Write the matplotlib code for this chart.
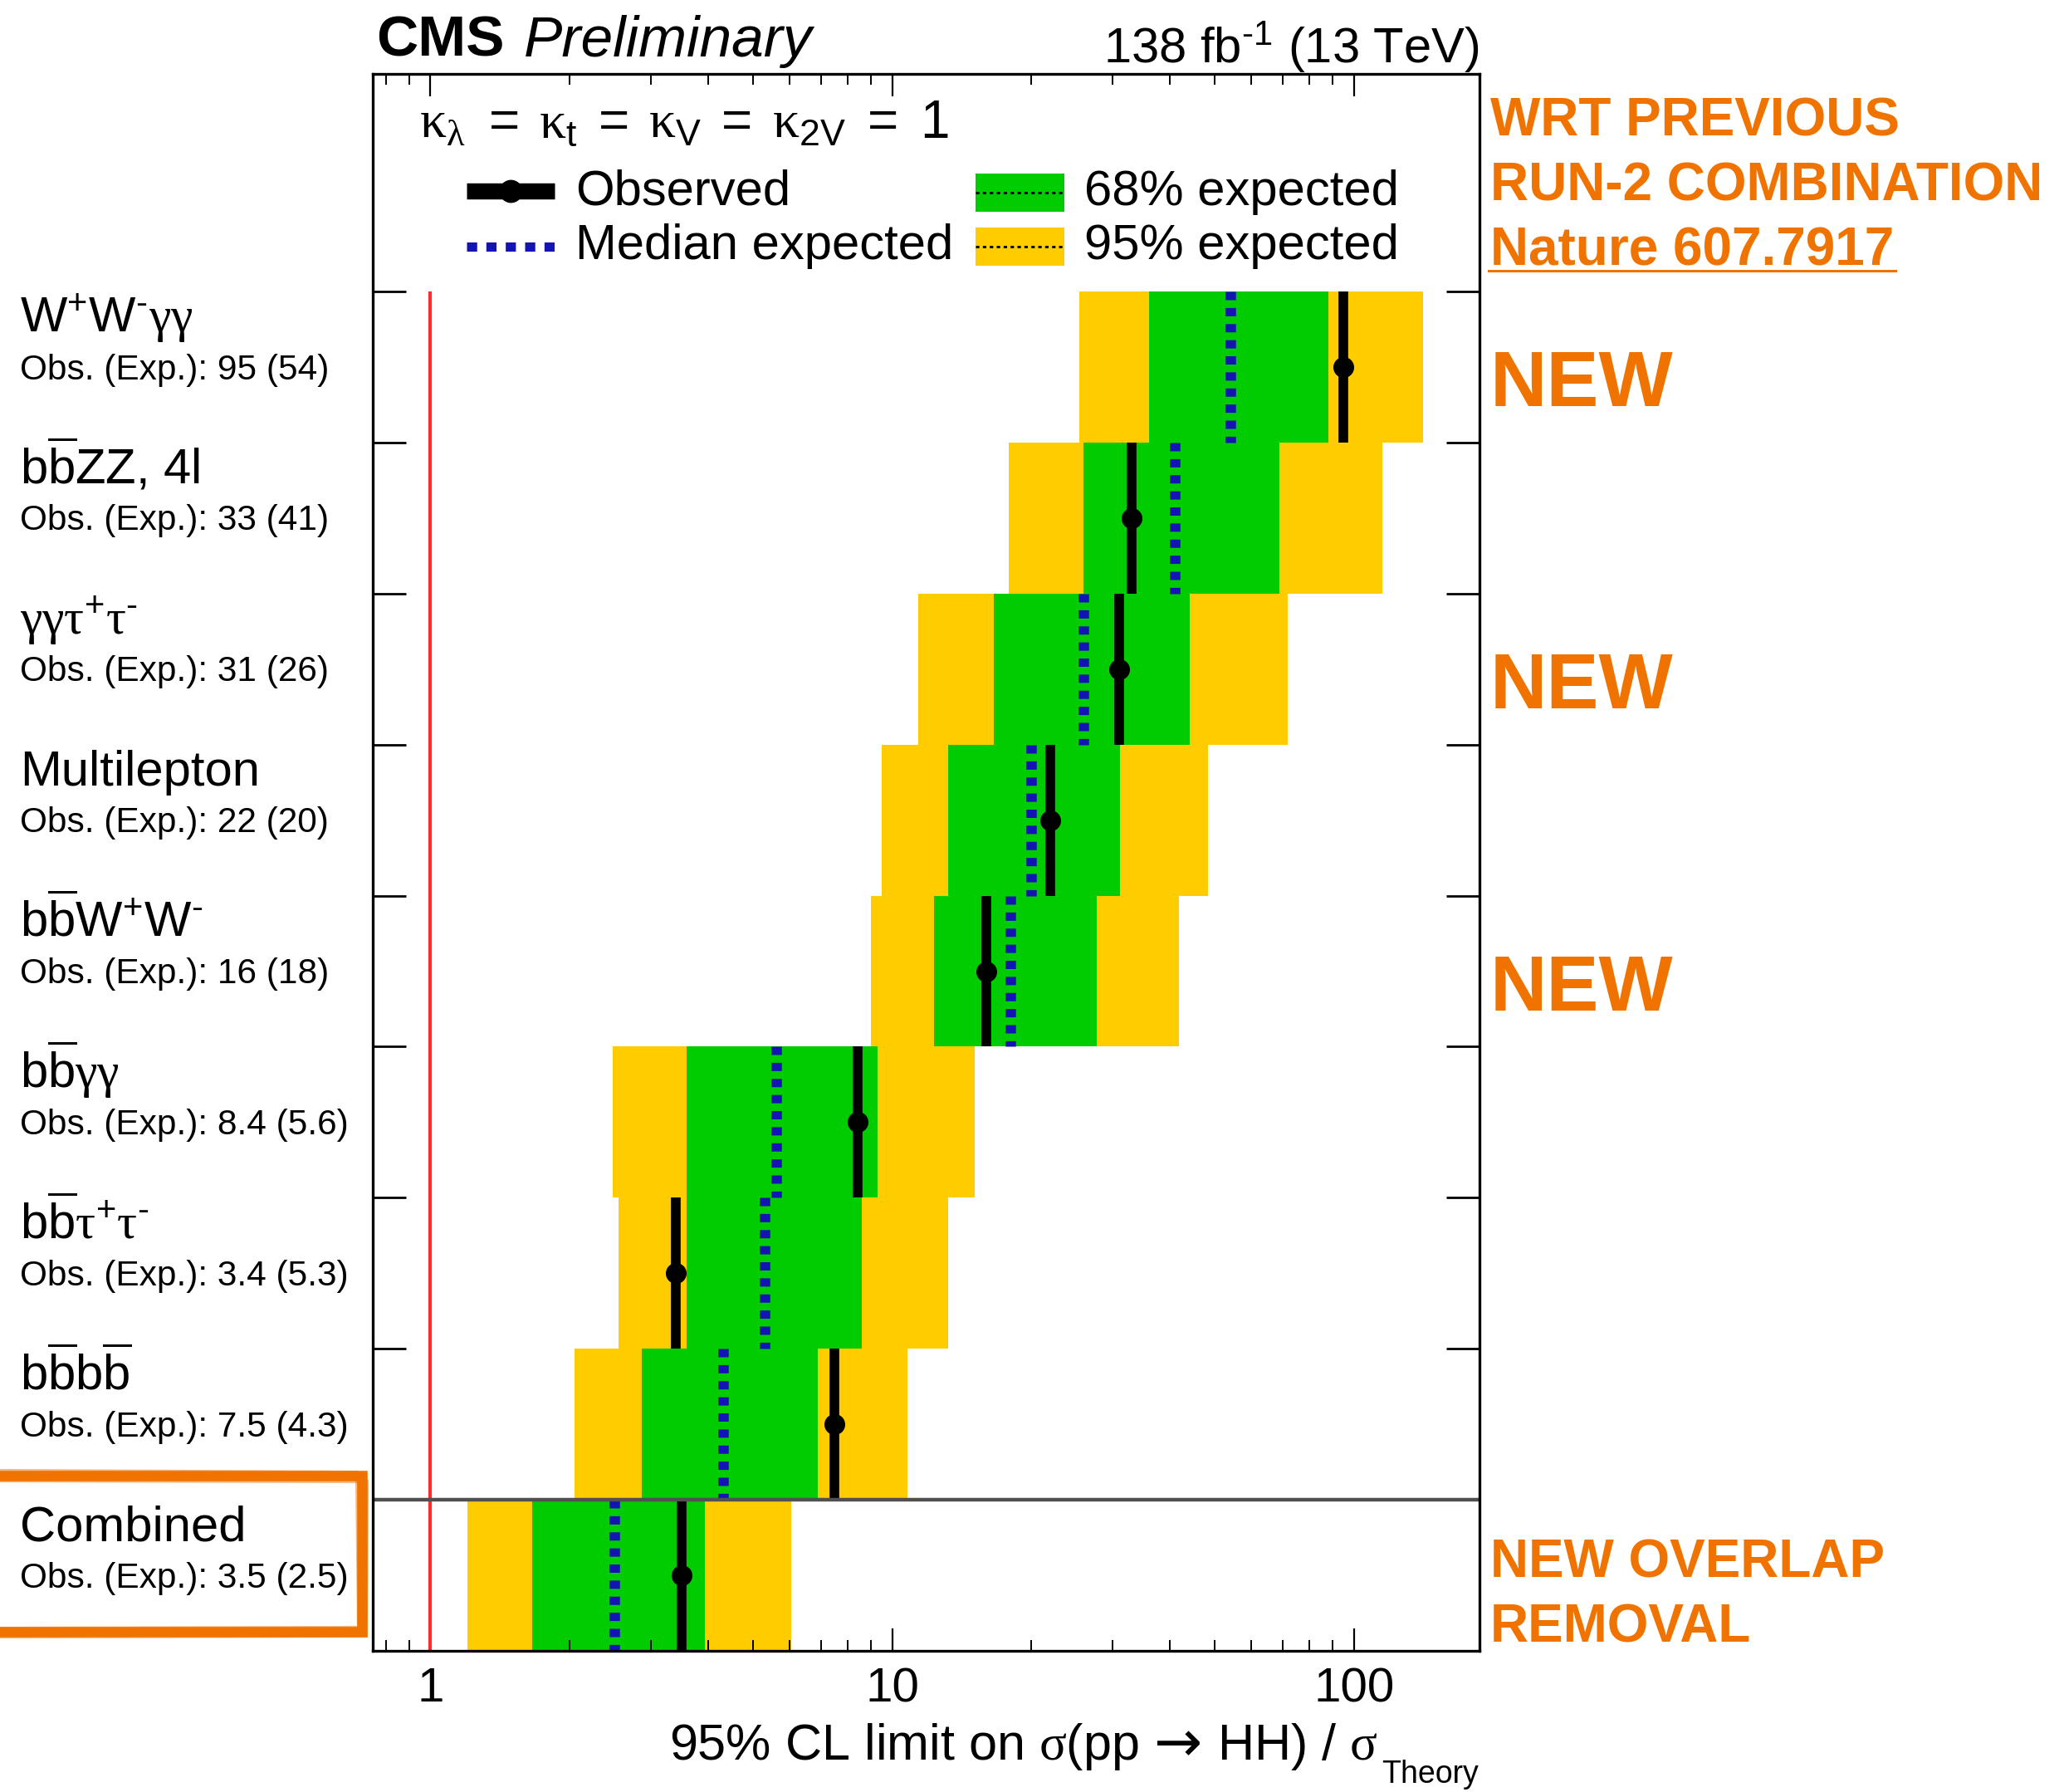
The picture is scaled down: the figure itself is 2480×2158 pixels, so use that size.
import matplotlib
matplotlib.use("Agg")
import matplotlib.pyplot as plt
from matplotlib.transforms import blended_transform_factory
from matplotlib.lines import Line2D
from matplotlib.patches import Rectangle
from matplotlib.ticker import LogLocator, FixedLocator, NullFormatter, FuncFormatter

plt.rcParams['font.family'] = ['Liberation Sans', 'DejaVu Sans']
plt.rcParams['mathtext.fontset'] = 'custom'
plt.rcParams['mathtext.rm'] = 'Liberation Sans'
plt.rcParams['mathtext.it'] = 'Liberation Sans:italic'
plt.rcParams['mathtext.bf'] = 'Liberation Sans:bold'
plt.rcParams['mathtext.sf'] = 'Liberation Serif'   # symbol-style greek letters

# ---- data (top to bottom) ----
channels = [
    r"$\mathrm{W}^{+}\mathrm{W}^{\text{-}}\mathsf{\gamma\gamma}$",
    r"b$\overline{\mathrm{b}}$ZZ, 4l",
    r"$\mathsf{\gamma\gamma\tau}^{+}\mathsf{\tau}^{\text{-}}$",
    "Multilepton",
    r"$\mathrm{b}\overline{\mathrm{b}}\mathrm{W}^{+}\mathrm{W}^{\text{-}}$",
    r"$\mathrm{b}\overline{\mathrm{b}}\mathsf{\gamma\gamma}$",
    r"$\mathrm{b}\overline{\mathrm{b}}\mathsf{\tau}^{+}\mathsf{\tau}^{\text{-}}$",
    r"$\mathrm{b}\overline{\mathrm{b}}\mathrm{b}\overline{\mathrm{b}}$",
    "Combined",
]
observed = [95, 33, 31, 22, 16, 8.4, 3.4, 7.5, 3.5]
expected = [54, 41, 26, 20, 18, 5.6, 5.3, 4.3, 2.5]
exp_minus2 = [25.4, 17.9, 11.4, 9.5, 9.0, 2.48, 2.55, 2.05, 1.2]
exp_minus1 = [36.0, 26.0, 16.6, 13.2, 12.3, 3.58, 3.58, 2.87, 1.66]
exp_plus1 = [88.0, 69.0, 44.0, 31.1, 27.7, 9.3, 8.58, 6.9, 3.93]
exp_plus2 = [141.0, 115.0, 72.0, 48.3, 41.8, 15.1, 13.2, 10.8, 6.05]
is_new = [True, False, True, False, True, False, False, False, False]
x_ticks = [1, 10, 100]

GREEN = '#00CC00'
YELLOW = '#FFCC00'
BLUE = '#1414B4'
ORANGE = '#F07300'

W, H = 2480, 2158
fig = plt.figure(figsize=(W / 100, H / 100), dpi=100)
ax = fig.add_axes([0.18105, 0.07878, 0.5375, 0.88017])

n = len(channels)
ybot = [n - 1 - i for i in range(n)]          # bottom edge of each row

ax.barh(ybot, [p - m for p, m in zip(exp_plus2, exp_minus2)], left=exp_minus2,
        height=1.0, align='edge', color=YELLOW, lw=0, zorder=1)
ax.barh(ybot, [p - m for p, m in zip(exp_plus1, exp_minus1)], left=exp_minus1,
        height=1.0, align='edge', color=GREEN, lw=0, zorder=1.1)

# median expected (drawn from the top of each row downwards)
ax.vlines(expected, [y + 1 for y in ybot], ybot, colors=BLUE, lw=9,
          linestyles=[(0, (0.8, 0.75))], zorder=3)
# observed
ax.vlines(observed, ybot, [y + 1 for y in ybot], colors='black', lw=8.4, zorder=4)
ax.plot(observed, [y + 0.5 for y in ybot], 'o', color='black', ms=17, zorder=5)

# SM reference and separator of the combination
ax.vlines(1, 0, n, colors='#FF2A2A', lw=3, zorder=2)
ax.axhline(1, color='#505050', lw=3.2, zorder=6)

ax.set_xscale('log')
ax.set_xlim(0.75, 187)
ax.set_ylim(0, 10.443)
ax.xaxis.set_major_locator(FixedLocator(x_ticks))
ax.xaxis.set_major_formatter(FuncFormatter(lambda v, p: f"{v:g}"))
ax.xaxis.set_minor_locator(LogLocator(base=10, subs=range(2, 10), numticks=20))
ax.xaxis.set_minor_formatter(NullFormatter())
ax.set_yticks(range(0, n + 1))
ax.set_yticklabels([])
ax.tick_params(axis='x', which='major', direction='in', length=19.5, width=1.6,
               top=True, bottom=True, labelsize=42, pad=14)
ax.tick_params(axis='x', which='minor', direction='in', length=9.5, width=1.4,
               top=True, bottom=True)
ax.tick_params(axis='y', which='major', direction='in', length=29, width=2,
               left=True, right=True)
for s in ax.spines.values():
    s.set_linewidth(2.4)
    s.set_zorder(7)

# x-axis title, assembled right to left so the arrow can use a fuller glyph
renderer = fig.canvas.get_renderer()
y_title = 1 - 2119 / H
t_right = fig.text(1660 / W, y_title, r"HH) / $\mathsf{\sigma}$",
                   ha='right', va='baseline', fontsize=44)
x0 = t_right.get_window_extent(renderer).x0
t_arrow = fig.text((x0 - 18) / W, 1 - 2121 / H, "→", ha='right', va='baseline',
                   fontsize=50, family='DejaVu Sans')
x0 = t_arrow.get_window_extent(renderer).x0
fig.text((x0 - 18) / W, y_title, r"95% CL limit on $\mathsf{\sigma}$(pp",
         ha='right', va='baseline', fontsize=44)
fig.text(1664 / W, 1 - 2147 / H, "Theory", ha='left', va='baseline', fontsize=27)

# header
fig.text(453 / W, 1 - 68 / H, "CMS", fontsize=50, fontweight='bold',
         ha='left', va='baseline')
fig.text(631 / W, 1 - 68 / H, "Preliminary", fontsize=50, fontstyle='italic',
         ha='left', va='baseline')
fig.text(0.7185, 1 - 76 / H, r"138 fb$^{\text{-}1}$ (13 TeV)", fontsize=43,
         ha='right', va='baseline')

# legend block
T = ax.transAxes
kappa_parts = [
    (0.0420, r"$\mathsf{\kappa}_{\mathsf{\lambda}}$"),
    (0.1050, "="),
    (0.1500, r"$\mathsf{\kappa}_{\mathrm{t}}$"),
    (0.2041, "="),
    (0.2491, r"$\mathsf{\kappa}_{\mathrm{V}}$"),
    (0.3151, "="),
    (0.3608, r"$\mathsf{\kappa}_{\mathrm{2V}}$"),
    (0.4471, "="),
    (0.4944, "1"),
]
for xx, s in kappa_parts:
    ax.text(xx, 0.9592, s, transform=T, fontsize=46, ha='left', va='baseline')

ax.add_line(Line2D([0.0848, 0.1643], [0.9255, 0.9255], transform=T, color='black',
                   lw=14, solid_capstyle='butt', zorder=8))
ax.add_line(Line2D([0.1245], [0.9255], transform=T, color='black', marker='o',
                   ms=19, lw=0, zorder=9))
ax.add_line(Line2D([0.0848, 0.1643], [0.8904, 0.8904], transform=T, color=BLUE,
                   lw=8, dashes=(1.1, 1.0), zorder=8))
ax.text(0.1830, 0.9168, "Observed", transform=T, fontsize=43, va='baseline')
ax.text(0.1830, 0.8826, "Median expected", transform=T, fontsize=43, va='baseline')
ax.add_patch(Rectangle((0.545, 0.9124), 0.080, 0.0241, transform=T,
                       facecolor=GREEN, lw=0, zorder=8))
ax.add_patch(Rectangle((0.545, 0.8782), 0.080, 0.0242, transform=T,
                       facecolor=YELLOW, lw=0, zorder=8))
for yy in (0.9247, 0.8904):
    ax.add_line(Line2D([0.545, 0.625], [yy, yy], transform=T, color='black',
                       lw=2, dashes=(1.5, 1.5), zorder=9))
ax.text(0.643, 0.9168, "68% expected", transform=T, fontsize=43, va='baseline')
ax.text(0.643, 0.8826, "95% expected", transform=T, fontsize=43, va='baseline')

# channel labels on the left
lab_tr = blended_transform_factory(fig.transFigure, ax.transData)
for name, yb, o, e in zip(channels, ybot, observed, expected):
    fig.text(24 / W, yb + 0.73, name, transform=lab_tr, fontsize=43,
             ha='left', va='baseline')
    fig.text(24 / W, yb + 0.42, f"Obs. (Exp.): {o:g} ({e:g})", transform=lab_tr,
             fontsize=30.5, ha='left', va='baseline')

# annotations on the right
for flag, yb in zip(is_new, ybot):
    if flag:
        fig.text(1795 / W, yb + 0.24, "NEW", transform=lab_tr, fontsize=68,
                 fontweight='bold', color=ORANGE, ha='left', va='baseline')

xr = 1795 / W
fig.text(xr, 1 - 164 / H, "WRT PREVIOUS", fontsize=46, fontweight='bold',
         color=ORANGE, va='baseline')
fig.text(xr, 1 - 242 / H, "RUN-2 COMBINATION", fontsize=46, fontweight='bold',
         color=ORANGE, va='baseline')
fig.text(xr, 1 - 319 / H, "Nature 607.7917", fontsize=46, fontweight='bold',
         color=ORANGE, va='baseline')
fig.add_artist(Line2D([1793 / W, 2283 / W], [1 - 326 / H, 1 - 326 / H],
                      transform=fig.transFigure, color=ORANGE, lw=2.2))
fig.text(xr, 1 - 1900 / H, "NEW OVERLAP", fontsize=46, fontweight='bold',
         color=ORANGE, va='baseline')
fig.text(xr, 1 - 1977 / H, "REMOVAL", fontsize=46, fontweight='bold',
         color=ORANGE, va='baseline')

# hand-drawn frame around the combined result
frame_strokes = [
    ([-10, 436, 436, -10], [1777, 1777, 1965, 1965], 9.0, 1.0),
    ([-10, 430, 432, -10], [1771, 1773, 1960, 1961], 3.0, 0.5),
    ([-10, 442, 441, -10], [1783, 1784, 1970, 1971], 3.0, 0.5),
]
for xs, ys, lw, a in frame_strokes:
    fig.add_artist(Line2D([x / W for x in xs], [1 - y / H for y in ys],
                          transform=fig.transFigure, color=ORANGE, lw=lw, alpha=a,
                          solid_joinstyle='miter'))

fig.savefig("out.png", dpi=100)
